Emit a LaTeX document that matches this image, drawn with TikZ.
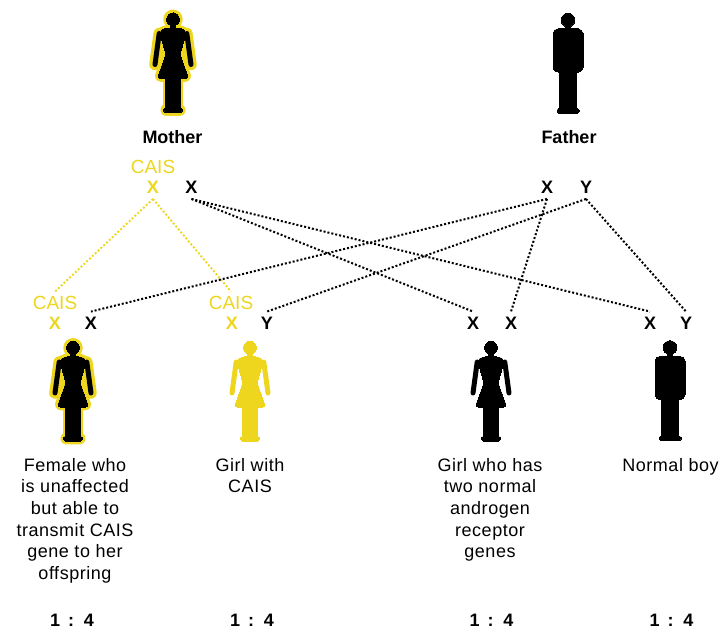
\documentclass[tikz,border=0pt]{standalone}
\usepackage{fontspec}
\setmainfont{Liberation Sans}
\newfontfamily\descfont[LetterSpace=3]{Liberation Sans}
\definecolor{caisyellow}{RGB}{238,214,30}
\tikzset{
  pics/female/.style n args={3}{code={
    \path[fill=#1, draw=#1, line width=#2, line join=round]
      (0,6.8) circle[radius=6.4pt]
      (-2.2,11) rectangle (2.2,17);
    \path[fill=#1, draw=#1, line width=#2, line join=round, rounded corners=3.5pt]
      (0,15.8) -- (9,15.8) -- (13.3,19.5) -- (7,42) -- (15.8,66) -- (-15.8,66)
      -- (-7,42) -- (-13.3,19.5) -- (-9,15.8) -- cycle;
    \draw[#1, line width=#3, line cap=round] (-13.8,21) -- (-18,52) (13.8,21) -- (18,52);
    \path[fill=#1, draw=#1, line width=#2, line join=round] (-7.2,64) rectangle (7.2,97);
    \path[fill=#1, draw=#1, line width=#2, line join=round, rounded corners=1.5pt]
      (-9.2,95) rectangle (9.2,100);
  }},
  pics/male/.style n args={2}{code={
    \path[fill=#1, draw=#1, line width=#2] (0,7) circle[radius=6.8pt]
      (-2.5,11) rectangle (2.5,17);
    \path[fill=#1, draw=#1, line width=#2, rounded corners=5pt]
      (-15,15.8) rectangle (15,59);
    \path[fill=#1, draw=#1, line width=#2] (-8.8,57) rectangle (8.8,97);
    \path[fill=#1, draw=#1, line width=#2, rounded corners=1.5pt]
      (-11,95.5) rectangle (11,100);
  }},
  gene/.style={font=\bfseries\fontsize{18}{20}\selectfont, inner sep=5pt,
    text height=12.5pt, text depth=0pt},
  cais/.style={font=\fontsize{19}{21}\selectfont, text=caisyellow, inner sep=4pt,
    text height=13.5pt, text depth=0pt},
  parent/.style={font=\bfseries\fontsize{18}{20}\selectfont, inner sep=0pt},
  desc/.style={font=\descfont\fontsize{18}{21.6}\selectfont, align=center,
    inner sep=0pt, anchor=north},
  ratio/.style={font=\bfseries\fontsize{18}{20}\selectfont, inner sep=0pt},
  blackdots/.style={black, line width=2pt, dash pattern=on 2pt off 2pt},
  yellowdots/.style={caisyellow, line width=1.9pt, dash pattern=on 1.9pt off 2pt},
}
\begin{document}
\begin{tikzpicture}[x=1pt, y=-1pt]
\useasboundingbox[fill=white] (0,0) rectangle (723,629);

% parents
\pic at (173,12.5) {female={caisyellow}{6.5pt}{11.5pt}};
\pic at (173,12.5) {female={black}{0pt}{5pt}};
\pic at (568,13) {male={black}{0pt}};

\node[parent] (mother) at (172.5,137) {Mother};
\node[parent] (father) at (569,137) {Father};

\node[cais] (mcais) at (153,167) {CAIS};
\node[gene, text=caisyellow] (mXy) at (153,187.5) {X};
\node[gene] (mXb) at (191.5,187.5) {X};
\node[gene] (fX) at (547,187.5) {X};
\node[gene] (fY) at (586,187.5) {Y};

% children genes
\node[cais] (c1cais) at (55,302.5) {CAIS};
\node[gene, text=caisyellow] (c1Xy) at (55,323) {X};
\node[gene] (c1Xb) at (91,323) {X};
\node[cais] (c2cais) at (231,302.5) {CAIS};
\node[gene, text=caisyellow] (c2Xy) at (232,323) {X};
\node[gene] (c2Y) at (267,323) {Y};
\node[gene] (c3X1) at (473,323) {X};
\node[gene] (c3X2) at (511,323) {X};
\node[gene] (c4X) at (650,323) {X};
\node[gene] (c4Y) at (686,323) {Y};

% connectors
\draw[yellowdots] (mXy.south) -- (c1cais.north);
\draw[yellowdots] (mXy.south) -- (c2cais.north);
\draw[blackdots] (mXb.south) -- (c3X1.north);
\draw[blackdots] (mXb.south) -- (c4X.north);
\draw[blackdots] (fX.south) -- (c1Xb.north);
\draw[blackdots] (fX.south) -- (c3X2.north);
\draw[blackdots] (fY.south) -- (c2Y.north);
\draw[blackdots] (fY.south) -- (c4Y.north);

% children figures
\pic at (73,341) {female={caisyellow}{6.5pt}{11.5pt}};
\pic at (73,341) {female={black}{0pt}{5pt}};
\pic at (250,341) {female={caisyellow}{0pt}{5pt}};
\pic at (491,341) {female={black}{0pt}{5pt}};
\pic at (670,340.5) {male={black}{0pt}};

% descriptions
\node[desc] (d1) at (75,458) {Female who\\is unaffected\\but able to\\transmit CAIS\\gene to her\\offspring};
\node[desc] (d2) at (250,458) {Girl with\\CAIS};
\node[desc] (d3) at (490,458) {Girl who has\\two normal\\androgen\\receptor\\genes};
\node[desc] (d4) at (670.5,458) {Normal boy};

% ratios
\node[ratio] (r1) at (72,620) {1\hspace{3pt} : \hspace{3pt}4};
\node[ratio] (r2) at (252,620) {1\hspace{3pt} : \hspace{3pt}4};
\node[ratio] (r3) at (491.5,620) {1\hspace{3pt} : \hspace{3pt}4};
\node[ratio] (r4) at (671.5,620) {1\hspace{3pt} : \hspace{3pt}4};
\end{tikzpicture}
\end{document}
